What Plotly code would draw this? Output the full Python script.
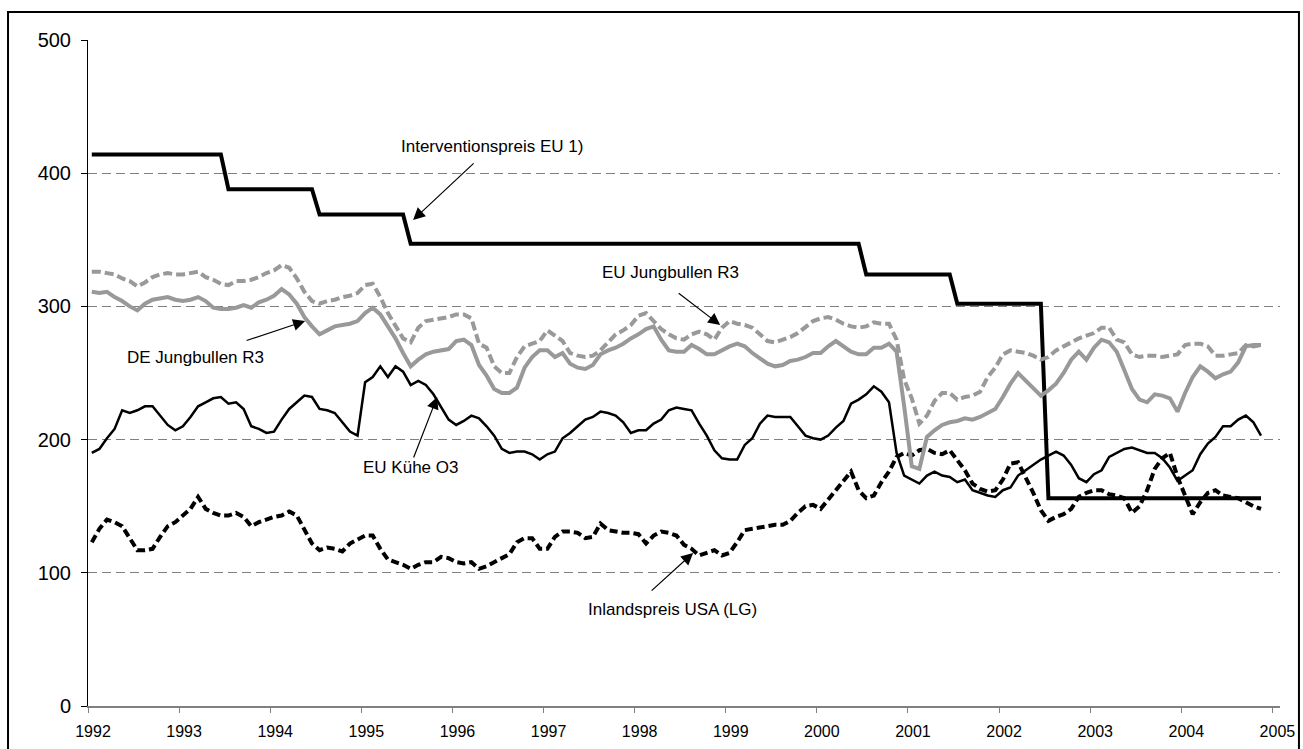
import plotly.graph_objects as go

# ---------------- data ----------------
years = list(range(1992, 2006))
year_labels = [str(y) for y in years]
n_months = 155  # Jan 1992 .. Nov 2004
months = [f"{1992 + i // 12}-{i % 12 + 1:02d}" for i in range(n_months)]

interventionspreis = ([414] * 18 + [388] * 12 + [369] * 12 + [347] * 60 +
                      [324] * 12 + [302] * 12 + [156] * 29)

eu_kuehe_o3 = [
    190, 193, 201, 208, 222, 220, 222, 225, 225, 218, 211, 207,
    210, 217, 225, 228, 231, 232, 227, 228, 223, 210, 208, 205,
    206, 215, 223, 228, 233, 232, 223, 222, 220, 213, 206, 203,
    243, 247, 255, 247, 255, 251, 241, 244, 241, 234, 225, 215,
    211, 214, 218, 216, 210, 203, 193, 190, 191, 191, 189, 185,
    189, 191, 201, 205, 210, 215, 217, 221, 220, 218, 213, 205,
    207, 207, 212, 215, 222, 224, 223, 222, 212, 203, 192, 186,
    185, 185, 196, 201, 212, 218, 217, 217, 217, 210, 203, 201,
    200, 203, 209, 214, 227, 230, 234, 240, 236, 228, 190, 173,
    170, 167, 173, 176, 173, 172, 168, 170, 162, 160, 158, 157,
    162, 164, 173, 177, 181, 185, 188, 191, 188, 181, 171, 168,
    174, 177, 187, 190, 193, 194, 192, 190, 190, 186, 179, 169,
    173, 177, 189, 197, 202, 210, 210, 215, 218, 213, 203,
]

de_jungbullen_r3 = [
    311, 310, 311, 307, 304, 300, 297, 302, 305, 306, 307, 305,
    304, 305, 307, 304, 299, 298, 298, 299, 301, 299, 303, 305,
    308, 313, 309, 302, 292, 285, 279, 282, 285, 286, 287, 289,
    295, 299, 294, 285, 276, 265, 255, 260, 264, 266, 267, 268,
    274, 275, 271, 256, 248, 238, 235, 235, 239, 254, 262, 267,
    267, 262, 265, 257, 254, 253, 256, 264, 267, 269, 272, 276,
    279, 283, 285, 275, 267, 266, 266, 271, 268, 264, 264, 267,
    270, 272, 270, 265, 261, 257, 255, 256, 259, 260, 262, 265,
    265, 270, 274, 270, 266, 264, 264, 269, 269, 272, 266, 225,
    180, 178, 202, 207, 211, 213, 214, 216, 215, 217, 220, 223,
    232, 242, 250, 244, 238, 233, 237, 242, 250, 260, 266, 260,
    269, 275, 273, 266, 252, 238, 230, 228, 234, 233, 231, 221,
    235, 247, 255, 251, 246, 249, 251, 258, 270, 271, 271,
]

eu_jungbullen_r3 = [
    326, 326, 325, 324, 321, 319, 315, 318, 322, 324, 325, 324,
    324, 325, 326, 322, 320, 317, 316, 319, 319, 320, 322, 325,
    327, 331, 329, 321, 311, 304, 302, 304, 305, 307, 308, 310,
    316, 317, 307, 295, 285, 276, 273, 284, 289, 290, 291, 292,
    294, 294, 291, 272, 269, 255, 250, 250, 262, 270, 272, 274,
    282, 278, 274, 265, 263, 262, 263, 267, 273, 279, 282, 286,
    293, 295, 289, 283, 279, 276, 275, 279, 281, 279, 275, 284,
    289, 287, 286, 284, 279, 274, 273, 275, 277, 280, 285, 289,
    291, 292, 290, 287, 285, 284, 285, 288, 287, 287, 275, 245,
    231, 212, 218, 229, 235, 235, 230, 232, 233, 236, 247, 254,
    264, 267, 266, 265, 263, 260, 262, 267, 270, 273, 276, 278,
    280, 284, 284, 275, 273, 264, 262, 263, 263, 262, 263, 264,
    271, 272, 272, 270, 263, 263, 264, 265, 271, 270, 271,
]

inlandspreis_usa = [
    123, 133, 140, 138, 135, 126, 117, 117, 118, 127, 135, 138,
    143, 148, 157, 148, 145, 143, 143, 145, 142, 135, 138, 140,
    142, 143, 146, 143, 133, 122, 117, 119, 118, 116, 122, 125,
    128, 128, 118, 110, 108, 106, 103, 106, 108, 108, 112, 111,
    108, 107, 108, 103, 105, 108, 111, 114, 123, 126, 126, 118,
    118, 127, 131, 131, 130, 126, 127, 137, 132, 131, 130, 130,
    129, 122, 128, 131, 130, 128, 121, 118, 113, 115, 117, 113,
    115, 123, 132, 133, 134, 135, 136, 136, 139, 145, 150, 151,
    148, 155, 162, 170, 176, 162, 156, 158, 168, 176, 187, 190,
    188, 192, 193, 190, 189, 192, 185, 177, 167, 163, 161, 162,
    170, 182, 183, 172, 160, 147, 139, 142, 144, 148, 157, 160,
    162, 162, 159, 158, 156, 145, 150, 162, 178, 186, 190, 172,
    158, 144, 153, 160, 162, 158, 157, 156, 153, 150, 148,
]

y_ticks = [0, 100, 200, 300, 400, 500]

# x position of each month: centre of its month slot on the year axis
x = [int(m[:4]) + (int(m[5:]) - 0.5) / 12 for m in months]

FONT = "Arial, Liberation Sans, sans-serif"
GRAY = "#999999"

fig = go.Figure()
fig.add_trace(go.Scatter(x=x, y=interventionspreis, mode="lines",
                         line=dict(color="black", width=4),
                         name="Interventionspreis EU 1)"))
fig.add_trace(go.Scatter(x=x, y=eu_kuehe_o3, mode="lines",
                         line=dict(color="black", width=2.5),
                         name="EU Kühe O3"))
fig.add_trace(go.Scatter(x=x, y=inlandspreis_usa, mode="lines",
                         line=dict(color="black", width=4, dash="8px,4px"),
                         name="Inlandspreis USA (LG)"))
fig.add_trace(go.Scatter(x=x, y=de_jungbullen_r3, mode="lines",
                         line=dict(color=GRAY, width=4),
                         name="DE Jungbullen R3"))
fig.add_trace(go.Scatter(x=x, y=eu_jungbullen_r3, mode="lines",
                         line=dict(color=GRAY, width=4, dash="9px,4px"),
                         name="EU Jungbullen R3"))

# labels: (text, text_x, text_y, arrow_tail_x, arrow_tail_y, tip_x, tip_y)
labels = [
    ("Interventionspreis EU 1)", 1996.436, 419.7, 1996.249, 408.4, 1995.568, 364.9),
    ("EU Jungbullen R3", 1998.390, 325.1, 1998.467, 310.8, 1998.939, 286.0),
    ("DE Jungbullen R3", 1993.175, 261.3, 1993.724, 274.0, 1994.383, 289.0),
    ("EU Kühe O3", 1995.535, 178.7, 1995.568, 185.4, 1995.832, 232.0),
    ("Inlandspreis USA (LG)", 1998.412, 72.1, 1998.170, 85.6, 1998.642, 114.9),
]
annotations = []
for text, tx, ty, ax_, ay_, px_, py_ in labels:
    annotations.append(dict(x=tx, y=ty, xref="x", yref="y", text=text,
                            showarrow=False,
                            font=dict(family=FONT, size=17, color="black")))
    annotations.append(dict(x=px_, y=py_, xref="x", yref="y", text="",
                            showarrow=True, ax=ax_, ay=ay_, axref="x", ayref="y",
                            arrowhead=2, arrowsize=2, arrowwidth=1.2,
                            arrowcolor="black"))

fig.update_layout(
    width=1303, height=749,
    margin=dict(l=88, r=23, t=40, b=43, autoexpand=False),
    paper_bgcolor="white", plot_bgcolor="white",
    showlegend=False,
    font=dict(family=FONT, color="black"),
    annotations=annotations,
    shapes=[dict(type="rect", xref="paper", yref="paper",
                 x0=-0.0671, x1=1.0159, y0=-0.075, y1=1.042,
                 line=dict(color="black", width=2), layer="above")],
)
fig.update_xaxes(
    range=[1992, 1992 + 157 / 12],
    tickvals=years, ticktext=year_labels,
    ticks="outside", ticklen=5, tickcolor="#808080", tickwidth=1,
    showline=True, linecolor="#808080", linewidth=2,
    showgrid=False, zeroline=False, automargin=False,
    tickfont=dict(family=FONT, size=16, color="black"),
    ticklabelshift=5, ticklabelstandoff=5,
)
fig.update_yaxes(
    range=[0, 500],
    tickvals=y_ticks, ticktext=[str(v) for v in y_ticks],
    ticks="outside", ticklen=6, tickcolor="black", tickwidth=1,
    showline=True, linecolor="black", linewidth=1,
    showgrid=True, gridcolor="#808080", gridwidth=1, griddash="9px,5px",
    zeroline=False, automargin=False,
    tickfont=dict(family=FONT, size=20, color="black"),
    ticklabelstandoff=6,
)

fig.write_html(
    "out.html",
    config={"displayModeBar": False},
    post_script="document.body.style.margin='0';document.body.style.overflow='hidden';",
)
